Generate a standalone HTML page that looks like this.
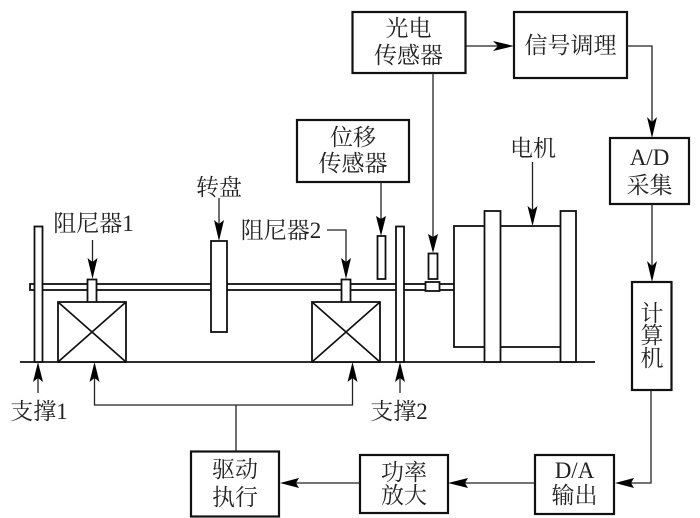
<!DOCTYPE html>
<html><head><meta charset="utf-8"><style>
html,body{margin:0;padding:0;background:#fff;width:700px;height:518px;overflow:hidden}
svg{display:block}
text{font-family:"Liberation Serif","Noto Serif CJK SC",serif;font-size:23px;fill:#222;text-anchor:middle}
.b{fill:#fff;stroke:#111;stroke-width:2.2}
.m{fill:#fff;stroke:#111;stroke-width:1.8}
.l{fill:none;stroke:#222;stroke-width:1.3}
.a{fill:#000;stroke:none}
</style></head><body>
<svg width="700" height="518" viewBox="0 0 700 518" xmlns="http://www.w3.org/2000/svg">
<!-- shaft -->
<rect class="m" x="30" y="284" width="425" height="6"/>
<!-- base -->
<line x1="20" y1="362" x2="595" y2="362" stroke="#111" stroke-width="1.8"/>
<!-- supports -->
<rect class="m" x="34.500" y="226.500" width="8" height="135.500"/>
<rect class="m" x="396" y="226.500" width="8" height="135.500"/>
<!-- dampers -->
<rect class="m" x="87.500" y="279.500" width="9" height="23"/>
<rect class="m" x="341.500" y="279.500" width="9" height="23"/>
<rect class="m" x="58" y="302" width="68" height="60"/>
<path d="M58 302L126 362M126 302L58 362" fill="none" stroke="#111" stroke-width="1.7"/>
<rect class="m" x="312" y="302" width="68" height="60"/>
<path d="M312 302L380 362M380 302L312 362" fill="none" stroke="#111" stroke-width="1.7"/>
<!-- disc -->
<rect class="m" x="211" y="241" width="16" height="91"/>
<!-- sensors -->
<rect class="m" x="377.500" y="236" width="8" height="43"/>
<rect class="m" x="428.500" y="253.500" width="9" height="25.500"/>
<rect class="m" x="425.500" y="282" width="14" height="9"/>
<!-- motor -->
<rect class="m" x="454" y="226" width="110" height="121"/>
<rect class="m" x="484.500" y="211" width="16" height="151"/>
<rect class="m" x="560.500" y="211" width="15.500" height="151"/>

<!-- boxes -->
<rect class="b" x="297" y="120" width="112" height="62"/>
<rect class="b" x="352.500" y="12" width="113" height="61"/>
<rect class="b" x="514" y="12" width="113" height="66"/>
<rect class="b" x="610" y="138" width="79" height="66"/>
<rect class="b" x="632" y="282" width="39.500" height="108"/>
<rect class="b" x="535" y="455" width="79" height="59"/>
<rect class="b" x="360" y="455" width="88" height="58"/>
<rect class="b" x="191" y="451.500" width="88" height="65"/>

<!-- connectors -->
<path class="l" d="M466 46H500"/>
<path class="a" d="M514 46L493 41L498 46L493 51Z"/>
<path class="l" d="M627 46H652V125"/>
<path class="a" d="M652 138L647 117L652 122L657 117Z"/>
<path class="l" d="M652 204V270"/>
<path class="a" d="M652 282L647 261L652 266L657 261Z"/>
<path class="l" d="M651 390V483H628"/>
<path class="a" d="M615 483L634 478L631 483L634 488Z"/>
<path class="l" d="M535 483H460"/>
<path class="a" d="M448 483L468 478L465 483L468 488Z"/>
<path class="l" d="M360 483H290"/>
<path class="a" d="M280 483L299 478L296 483L299 488Z"/>
<path class="l" d="M236 451V405M94.500 375V405H352.500V375"/>
<path class="a" d="M94.500 362L89.500 382L94.500 378L99.500 382Z"/>
<path class="a" d="M352.500 362L347.500 382L352.500 378L357.500 382Z"/>
<path class="l" d="M38 375V393"/>
<path class="a" d="M38 362L33 382L38 378L43 382Z"/>
<path class="l" d="M400 375V393"/>
<path class="a" d="M400 362L395 382L400 378L405 382Z"/>
<path class="l" d="M433 73V240"/>
<path class="a" d="M433 253L428 234L433 237L438 234Z"/>
<path class="l" d="M381 182V225"/>
<path class="a" d="M381 236L376 216L381 219L386 216Z"/>
<path class="l" d="M92.500 240V268"/>
<path class="a" d="M92.500 279L87.500 258L92.500 262L97.500 258Z"/>
<path class="l" d="M327 230H346V268"/>
<path class="a" d="M346 279L341 258L346 262L351 258Z"/>
<path class="l" d="M219 198V230"/>
<path class="a" d="M219 241L214 220L219 224L224 220Z"/>
<path class="l" d="M532.500 162V215"/>
<path class="a" d="M532.500 226L527.500 206L532.500 210L537.500 206Z"/>

<!-- labels -->
<text x="408.500" y="36">光电</text>
<text x="408.500" y="63">传感器</text>
<text x="570.500" y="53">信号调理</text>
<text x="649.500" y="165">A/D</text>
<text x="649.500" y="193">采集</text>
<text x="652" y="321">计</text>
<text x="652" y="343">算</text>
<text x="652" y="366">机</text>
<text x="574.500" y="478">D/A</text>
<text x="574.500" y="503">输出</text>
<text x="404" y="480">功率</text>
<text x="404" y="503">放大</text>
<text x="235" y="477">驱动</text>
<text x="235" y="505">执行</text>
<text x="353" y="145">位移</text>
<text x="353" y="171">传感器</text>
<text x="533" y="156">电机</text>
<text x="219" y="195">转盘</text>
<text x="93.500" y="231">阻尼器1</text>
<text x="281" y="238">阻尼器2</text>
<text x="39" y="419">支撑1</text>
<text x="399" y="419">支撑2</text>
</svg>
</body></html>
